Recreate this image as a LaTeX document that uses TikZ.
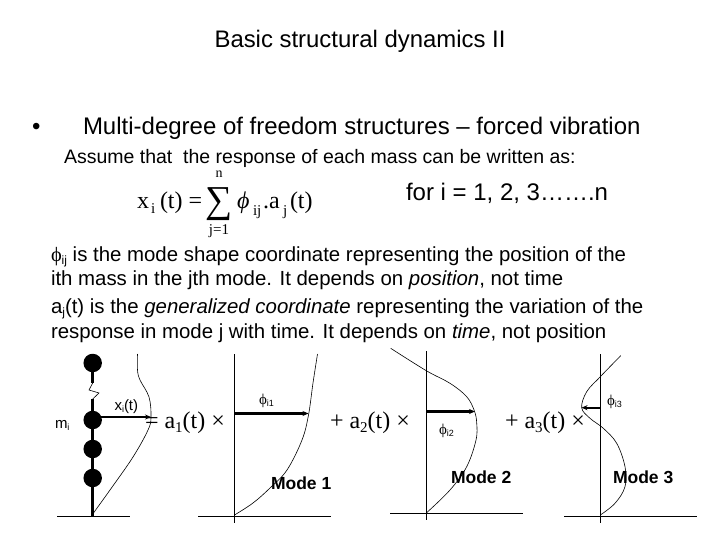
\documentclass[tikz,border=0pt]{standalone}
\usepackage{fontspec}
\setmainfont{Liberation Sans}
\newfontfamily\tms{Liberation Serif}
\usetikzlibrary{arrows.meta}
\newcommand{\fs}[1]{\fontsize{#1}{#1}\selectfont}
\newcommand{\sbs}[2]{\raisebox{-0.18em}{\fs{#1}#2}}
\newcommand{\ph}{{\tms ϕ}}
\tikzset{
 txt/.style={anchor=base west,inner sep=0pt,outer sep=0pt},
 thin line/.style={line width=0.6pt,black},
 axis line/.style={line width=0.9pt,black},
 thick line/.style={line width=2.8pt,black},
 arrow line/.style={line width=2.2pt,black,-{Stealth[length=6pt,width=5pt]}},
 mass/.style={circle,fill=black,draw=none,minimum size=18.5pt,inner sep=0pt},
}
\begin{document}
\begin{tikzpicture}[x=1pt,y=-1pt]
\useasboundingbox (0,0) rectangle (720,540);
\fill[white] (0,0) rectangle (720,540);
% heading text
\node[anchor=base,inner sep=0pt,font=\fs{23.9}] (title) at (360,48) {Basic structural dynamics II};
\node[txt,font=\fs{24}] (bullet) at (32,135) {•};
\node[txt,font=\fs{24}] (head) at (83,135) {Multi-degree of freedom structures – forced vibration};
\node[txt,font=\fs{19.5}] (assume) at (64,164) {Assume that\ \ the response of each mass can be written as:};
\node[txt,font=\fs{24}] (fori) at (406,201) {for i = 1, 2, 3…….n};
% formula
\node[txt,font=\tms\fs{24}] (fx) at (137,209) {x};
\node[txt,font=\tms\fs{15}] (fxi) at (151,214) {i};
\node[txt,font=\tms\fs{24}] (ft) at (160,209) {(t) =};
\node[anchor=center,inner sep=0pt,font=\tms\fs{38}] (sum) at (219,204) {∑};
\node[anchor=base,inner sep=0pt,font=\tms\fs{14}] (sn) at (219,178) {n};
\node[anchor=base,inner sep=0pt,font=\tms\fs{15}] (sj) at (219,235) {j=1};
\node[txt,font=\tms\itshape\fs{24}] (fphi) at (237,209) {ϕ};
\node[txt,font=\tms\fs{15}] (fij) at (253,215) {ij};
\node[txt,font=\tms\fs{24}] (fa) at (263,209) {.a};
\node[txt,font=\tms\fs{15}] (fj) at (283,215) {j};
\node[txt,font=\tms\fs{24}] (ft2) at (290,209) {(t)};
% body
\node[txt,font=\fs{20.4}] (l1) at (51,261) {\ph\sbs{12}{ij} is the mode shape coordinate representing the position of the};
\node[txt,font=\fs{20.4}] (l2) at (51,285) {ith mass in the jth mode. It depends on \textit{position}, not time};
\node[txt,font=\fs{20.4}] (l3) at (51,313) {a\sbs{12}{j}(t) is the \textit{generalized coordinate} representing the variation of the};
\node[txt,font=\fs{20.4}] (l4) at (51,338) {response in mode j with time. It depends on \textit{time}, not position};
% left figure
\node[mass] (m1) at (92.7,363) {};
\node[mass] (m2) at (92.7,420) {};
\node[mass] (m3) at (92.7,449) {};
\node[mass] (m4) at (92.7,478) {};
\coordinate (sa) at (92.7,383);
\coordinate (sb) at (92.7,399);
\coordinate (g0) at (92.7,516.5);
\coordinate (g0l) at (57,516.5);
\coordinate (g0r) at (130,516.5);
\draw[thick line] (m1) -- (sa);
\draw[thin line] (sa) -- (89,390) -- (99,393) -- (sb);
\draw[thick line] (sb) -- (m2);
\draw[thick line] (m2) -- (m3);
\draw[thick line] (m3) -- (m4);
\draw[thick line] (m4) -- (g0);
\draw[axis line] (g0l) -- (g0r);
\draw[thin line] plot[smooth,tension=0.6] coordinates {(92,515) (110,490) (133,457) (148,430) (151,417) (149,397) (140,380) (137.5,370) (137.5,354)};
\coordinate (xt) at (151,417);
\draw[arrow line] (m2 |- xt) -- (xt);
\node[txt,font=\fs{15}] (xi) at (114.5,410) {x\sbs{9}{i}(t)};
\node[txt,font=\fs{15}] (mi) at (55,428) {m\sbs{9}{i}};
\node[txt,font=\tms\fs{24}] (eq1) at (145,428) {= a\sbs{15}{1}(t) ×};
% mode 1
\coordinate (a1t) at (234.5,354);
\coordinate (a1b) at (234.5,522.7);
\coordinate (g1l) at (198,516.5);
\coordinate (g1r) at (331,516.5);
\coordinate (a1s) at (234.5,413.5);
\coordinate (a1e) at (308.5,413.5);
\draw[axis line] (a1t) -- (a1b);
\draw[axis line] (g1l) -- (g1r);
\draw[thin line] plot[smooth,tension=0.6] coordinates {(234.5,515) (253,503) (270,488) (287,470) (302,440) (308.5,415) (313,383) (317.5,354)};
\draw[arrow line] (a1s) -- (a1e);
\node[txt,font=\fs{15}] (p1) at (259,404) {\ph\sbs{9}{i1}};
\node[txt,font=\tms\fs{24}] (eq2) at (330,428) {+ a\sbs{15}{2}(t) ×};
\node[txt,font=\bfseries\fs{17.5}] (md1) at (271,489) {Mode 1};
% mode 2
\coordinate (a2t) at (426.3,351);
\coordinate (a2b) at (426.3,520);
\coordinate (g2l) at (390,513.3);
\coordinate (g2r) at (522.7,513.3);
\coordinate (a2s) at (426.3,411.5);
\coordinate (a2e) at (475,411.5);
\draw[axis line] (a2t) -- (a2b);
\draw[axis line] (g2l) -- (g2r);
\draw[thin line] plot[smooth,tension=0.6] coordinates {(426.3,513) (450,490) (466.7,466.7) (476,440) (476.7,423) (474.3,410.7) (466.7,396.7) (450,383.3) (426.3,370.7) (390.7,348.3)};
\draw[arrow line] (a2s) -- (a2e);
\node[txt,font=\fs{15}] (p2) at (439,434) {\ph\sbs{9}{i2}};
\node[txt,font=\tms\fs{24}] (eq3) at (505,428) {+ a\sbs{15}{3}(t) ×};
\node[txt,font=\bfseries\fs{17.5}] (md2) at (451,483) {Mode 2};
% mode 3
\coordinate (a3t) at (600.3,354);
\coordinate (a3b) at (600.3,522.7);
\coordinate (g3l) at (564,516.5);
\coordinate (g3r) at (696.7,516.5);
\coordinate (a3s) at (600.3,407.7);
\coordinate (a3e) at (581.5,407.7);
\draw[axis line] (a3t) -- (a3b);
\draw[axis line] (g3l) -- (g3r);
\draw[thin line] plot[smooth,tension=0.6] coordinates {(600.3,515) (615,503.3) (625,486.7) (625,466.7) (616.7,443.3) (603.3,428.3) (590,418.3) (581.7,407.7) (586.7,391.7) (600.3,376.7) (620.7,355.7)};
\draw[arrow line] (a3s) -- (a3e);
\node[txt,font=\fs{15}] (p3) at (607,405) {\ph\sbs{9}{i3}};
\node[txt,font=\bfseries\fs{17.5}] (md3) at (613,483) {Mode 3};
\end{tikzpicture}
\end{document}
